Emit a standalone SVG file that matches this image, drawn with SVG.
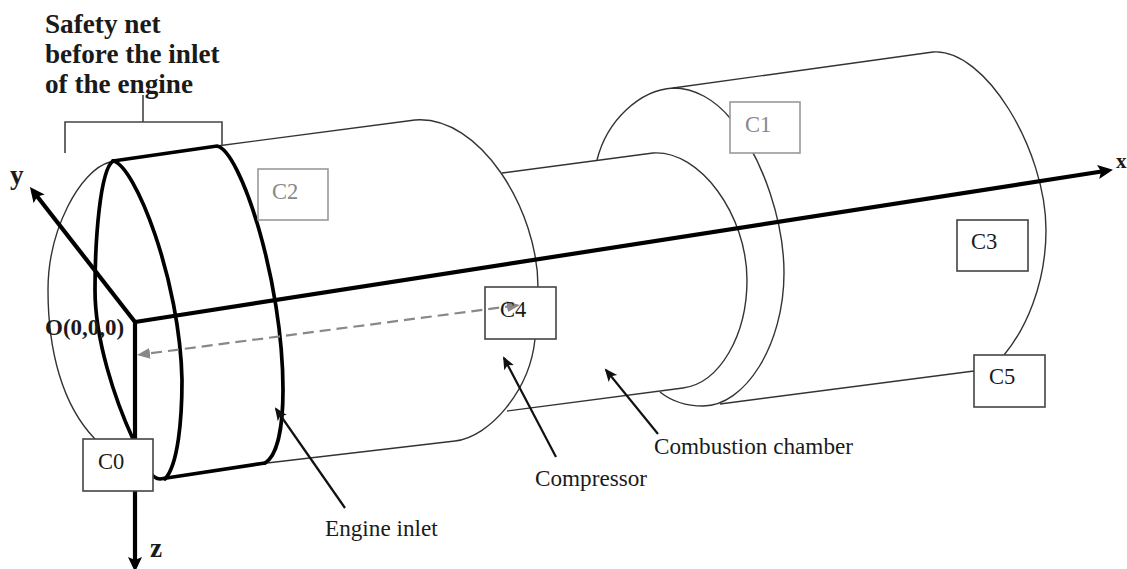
<svg xmlns="http://www.w3.org/2000/svg" width="1127" height="569" viewBox="0 0 1127 569">
<style>
text{font-family:"Liberation Serif","Times New Roman",serif;fill:#1a1a1a}
.t{font-size:22.5px}
.l{font-size:23.2px}
.b{font-weight:bold;font-size:27.2px}
.thin{fill:none;stroke:#333;stroke-width:1.4}
.thick{fill:none;stroke:#000;stroke-width:3.7;stroke-linecap:round}
.axis{fill:none;stroke:#000;stroke-width:4.2}
.ptr{fill:none;stroke:#111;stroke-width:2.2}
.dash{fill:none;stroke:#888;stroke-width:2.2;stroke-dasharray:11 6}
.box{fill:#fff;stroke:#444;stroke-width:1.6}
.boxg{fill:#fff;stroke:#999;stroke-width:1.6}
.g{fill:#888}
</style>
<defs>
<marker id="ah" markerUnits="userSpaceOnUse" markerWidth="16" markerHeight="14" refX="10" refY="7" orient="auto"><path d="M0 0L15 7L0 14L3 7z" fill="#000"/></marker>
<marker id="ap" markerUnits="userSpaceOnUse" markerWidth="14" markerHeight="12" refX="11" refY="5.500" orient="auto"><path d="M0 0L13 5.500L0 11L3 5.500z" fill="#111"/></marker>
<marker id="ad" markerUnits="userSpaceOnUse" markerWidth="14" markerHeight="12" refX="9" refY="5.500" orient="auto-start-reverse"><path d="M0 0L13 5.500L0 11z" fill="#888"/></marker>
</defs>
<rect width="1127" height="569" fill="#fff"/>
<g id="connectors">
<path class="thin" d="M110 162C80 170 48 230 48 290C48 350 62 405 95 439"/>
<path class="thin" d="M217 146L415 120C480 115 538 210 538 287"/>
<path class="thin" d="M267 463L455 441C490 437 530 390 535 339"/>
<path class="thin" d="M502 173L653 153C700 150 747 215 747 280C747 335 720 383 683 388L507 411"/>
<path class="thin" d="M597 160C607 120 640 90 673 88C695 88 715 100 730 118C765 160 784 225 784 273C784 345 745 406 703 406C685 406 670 400 660 392"/>
<path class="thin" d="M673 88L933 52C985 48 1046 150 1046 230C1046 285 1025 330 1004 355"/>
<path class="thin" d="M720 404L974 371"/>
<path class="thick" d="M113 161C100 170 95 240 95 290C95 340 115 400 133 439C140 458 150 479 160 479L265 463"/>
<path class="thick" d="M113 161C135 165 180 280 182 380C182 420 178 465 165 479"/>
<path class="thick" d="M113 161L217 146C240 150 283 280 283 390C283 425 278 455 265 463"/>
<path class="axis" d="M135 322L1108 170.500" marker-end="url(#ah)"/>
<path class="axis" d="M135 322V567" marker-end="url(#ah)"/>
<path class="axis" d="M135 322L33 191" marker-end="url(#ah)"/>
<path class="ptr" d="M345 508L276 409" marker-end="url(#ap)"/>
<path class="ptr" d="M556 457L504 358" marker-end="url(#ap)"/>
<path class="ptr" d="M658 434L606 370" marker-end="url(#ap)"/>
<path class="dash" d="M516 305.500L141 354.500" marker-start="url(#ad)" marker-end="url(#ad)"/>
<path fill="none" stroke="#444" stroke-width="1.600" d="M65 153V122H222V146M143 95V122"/>
</g>
<g id="safety-net-label"><text class="b" x="45" y="33">Safety net</text><text class="b" x="45" y="63">before the inlet</text><text class="b" x="45" y="93">of the engine</text></g>
<g id="axis-labels"><text class="b" x="10" y="184">y</text><text class="b" x="150" y="557">z</text><text class="b" style="font-size:21px" x="1116" y="168">x</text><text class="b" style="font-size:23px" x="45" y="335">O(0,0,0)</text></g>
<g id="C0"><rect class="box" x="83" y="439" width="70" height="52"/><text class="t" x="98" y="469">C0</text></g>
<g id="C1"><rect class="boxg" x="730" y="102" width="70" height="51"/><text class="t g" x="745" y="132">C1</text></g>
<g id="C2"><rect class="boxg" x="258" y="169" width="70" height="51"/><text class="t g" x="272" y="199">C2</text></g>
<g id="C3"><rect class="box" x="957" y="220" width="71" height="51"/><text class="t" x="971" y="249">C3</text></g>
<g id="C4"><rect class="box" x="485" y="287" width="71" height="52" style="fill:none"/><text class="t" x="500" y="317">C4</text></g>
<g id="C5"><rect class="box" x="974" y="355" width="71" height="52"/><text class="t" x="989" y="384">C5</text></g>
<g id="engine-inlet"><text class="l" x="325" y="536">Engine inlet</text></g>
<g id="compressor"><text class="l" x="535" y="486">Compressor</text></g>
<g id="combustion-chamber"><text class="l" x="654" y="454">Combustion chamber</text></g>
</svg>
